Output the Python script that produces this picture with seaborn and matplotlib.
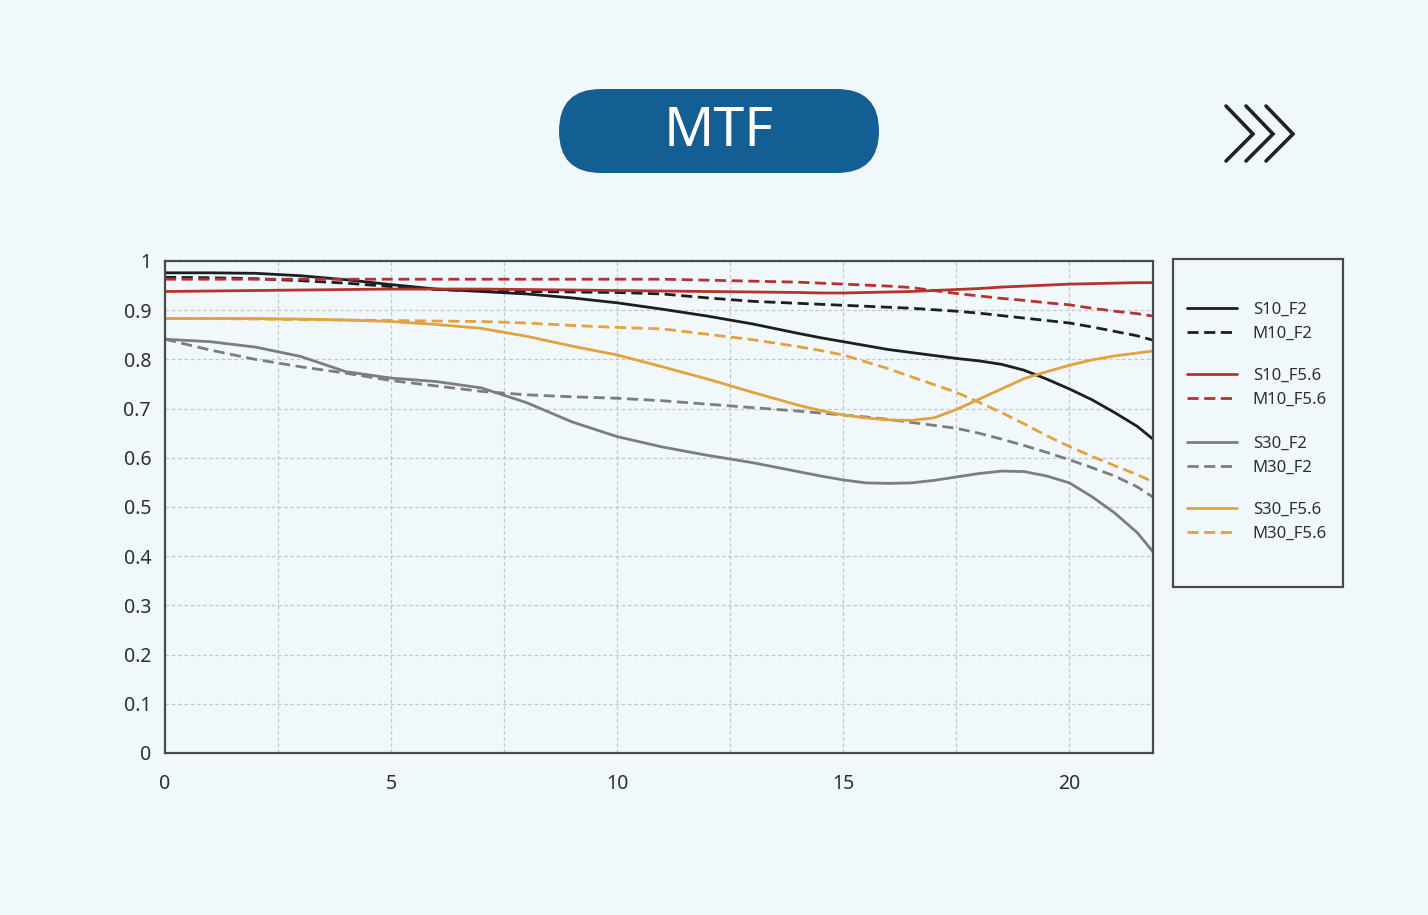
import numpy as np
import pandas as pd
import matplotlib.pyplot as plt
import seaborn as sns
from matplotlib.lines import Line2D
from matplotlib.patches import FancyBboxPatch, Rectangle
from matplotlib.transforms import IdentityTransform

# frecuencia espacial (lp/mm) y valores MTF
frecuencia = [0, 1, 2, 3, 4, 5, 6, 7, 8, 9, 10, 11, 12, 13, 14, 14.5, 15, 15.5, 16, 16.5,
              17, 17.5, 18, 18.5, 19, 19.5, 20, 20.5, 21, 21.5, 21.85]

s10_f2 = [0.976, 0.976, 0.975, 0.970, 0.962, 0.952, 0.943, 0.938, 0.933, 0.925, 0.915, 0.902,
          0.888, 0.872, 0.853, 0.844, 0.836, 0.828, 0.820, 0.814, 0.808, 0.802, 0.797, 0.790,
          0.778, 0.760, 0.740, 0.718, 0.692, 0.664, 0.638]
m10_f2 = [0.967, 0.966, 0.964, 0.960, 0.955, 0.948, 0.942, 0.939, 0.938, 0.937, 0.936, 0.933,
          0.925, 0.918, 0.914, 0.912, 0.910, 0.908, 0.906, 0.904, 0.901, 0.898, 0.894, 0.889,
          0.884, 0.879, 0.874, 0.866, 0.857, 0.848, 0.839]
s10_f56 = [0.938, 0.939, 0.940, 0.941, 0.942, 0.943, 0.943, 0.943, 0.942, 0.941, 0.940, 0.939,
           0.938, 0.937, 0.936, 0.935, 0.935, 0.936, 0.937, 0.938, 0.940, 0.942, 0.944, 0.947,
           0.949, 0.951, 0.953, 0.954, 0.955, 0.956, 0.956]
m10_f56 = [0.963, 0.963, 0.963, 0.963, 0.963, 0.963, 0.963, 0.963, 0.963, 0.963, 0.963, 0.963,
           0.961, 0.959, 0.957, 0.955, 0.953, 0.951, 0.949, 0.946, 0.940, 0.934, 0.929, 0.924,
           0.920, 0.915, 0.911, 0.904, 0.898, 0.893, 0.888]
s30_f2 = [0.841, 0.836, 0.825, 0.806, 0.775, 0.762, 0.755, 0.742, 0.712, 0.673, 0.643, 0.622,
          0.605, 0.590, 0.572, 0.563, 0.555, 0.549, 0.548, 0.549, 0.554, 0.561, 0.568, 0.573,
          0.572, 0.563, 0.549, 0.521, 0.488, 0.448, 0.409]
m30_f2 = [0.841, 0.819, 0.800, 0.785, 0.772, 0.757, 0.746, 0.735, 0.728, 0.724, 0.721, 0.716,
          0.709, 0.702, 0.695, 0.691, 0.687, 0.683, 0.678, 0.672, 0.666, 0.660, 0.650, 0.638,
          0.625, 0.611, 0.596, 0.580, 0.563, 0.541, 0.520]
s30_f56 = [0.883, 0.883, 0.883, 0.882, 0.880, 0.877, 0.871, 0.863, 0.847, 0.827, 0.809, 0.785,
           0.760, 0.733, 0.707, 0.696, 0.687, 0.681, 0.677, 0.676, 0.681, 0.698, 0.719, 0.740,
           0.761, 0.775, 0.788, 0.799, 0.807, 0.813, 0.817]
m30_f56 = [0.883, 0.883, 0.882, 0.881, 0.880, 0.879, 0.878, 0.877, 0.874, 0.869, 0.865, 0.862,
           0.851, 0.840, 0.826, 0.818, 0.809, 0.795, 0.781, 0.765, 0.749, 0.733, 0.713, 0.692,
           0.669, 0.645, 0.623, 0.603, 0.584, 0.566, 0.551]

curvas = ["S10_F2", "M10_F2", "S10_F5.6", "M10_F5.6", "S30_F2", "M30_F2", "S30_F5.6", "M30_F5.6"]
valores = [s10_f2, m10_f2, s10_f56, m10_f56, s30_f2, m30_f2, s30_f56, m30_f56]

NEGRO = "#1e1e1e"
ROJO = "#b5332e"
GRIS = "#7d7d7d"
NARANJA = "#e2a23e"
FONDO = "#f1f8fc"

colores = dict(zip(curvas, [NEGRO, NEGRO, ROJO, ROJO, GRIS, GRIS, NARANJA, NARANJA]))
estilos = {c: ("" if c.startswith("S") else (4, 2)) for c in curvas}

df = pd.concat([pd.DataFrame({"freq": frecuencia, "mtf": v, "curva": c})
                for c, v in zip(curvas, valores)], ignore_index=True)

sns.set_theme(style="white")
plt.rcParams["font.family"] = ["Noto Sans", "DejaVu Sans"]

fig = plt.figure(figsize=(14.28, 9.15), dpi=100, facecolor=FONDO)
ax = fig.add_axes([165 / 1428, 1 - 753 / 915, (1153 - 165) / 1428, (753 - 261) / 915])
ax.set_facecolor(FONDO)

sns.lineplot(data=df, x="freq", y="mtf", hue="curva", style="curva", palette=colores,
             dashes=estilos, linewidth=2, legend=False, ax=ax, sort=False)

ax.set_xlim(0, 21.85)
ax.set_ylim(0, 1)
ax.set_xticks([0, 5, 10, 15, 20])
ax.set_xticks([2.5, 7.5, 12.5, 17.5], minor=True)
yt = np.round(np.arange(0, 1.01, 0.1), 1)
ax.set_yticks(yt)
ax.set_yticklabels([f"{v:g}" for v in yt])
ax.set_xlabel("")
ax.set_ylabel("")
ax.tick_params(axis="both", which="both", length=0, labelsize=14, colors="#2e2e2e")
ax.tick_params(axis="x", pad=15)
ax.tick_params(axis="y", pad=10)
ax.grid(True, which="both", color="#c4c7ca", linestyle=(0, (3, 2)), linewidth=0.9)
for s in ax.spines.values():
    s.set_color("#4a4a4a")
    s.set_linewidth(1.6)

# cuadro de la leyenda
fig.add_artist(Rectangle((1173 / 1428, 1 - 587 / 915), (1343 - 1173) / 1428, (587 - 259) / 915,
                         transform=fig.transFigure, facecolor=FONDO, edgecolor="#4a4a4a",
                         linewidth=1.6))
centros = [322, 388, 456, 522]
for i, yc in enumerate(centros):
    par = curvas[2 * i:2 * i + 2]
    handles = [Line2D([], [], color=colores[c], linewidth=2,
                      linestyle="-" if c.startswith("S") else (0, (4, 2))) for c in par]
    fig.legend(handles, par, loc="center left", bbox_to_anchor=(1187 / 1428, 1 - yc / 915),
               bbox_transform=fig.transFigure, frameon=False, borderpad=0, borderaxespad=0,
               handlelength=3, handletextpad=0.95, labelspacing=0.47, fontsize=12,
               labelcolor="#2e2e2e")

# cabecera
fig.add_artist(FancyBboxPatch((559, 915 - 173), 320, 84,
                              boxstyle="round,pad=0,rounding_size=42",
                              transform=IdentityTransform(), facecolor="#135e93",
                              edgecolor="none"))
fig.text(719 / 1428, 1 - 131 / 915, "MTF", color="white", fontsize=40,
         ha="center", va="center")

# flechas decorativas
for k in range(3):
    x0 = (1226 + 20 * k) / 1428
    x1 = (1253 + 20 * k) / 1428
    fig.add_artist(Line2D([x0, x1, x0], [1 - 106 / 915, 1 - 134 / 915, 1 - 161 / 915],
                          transform=fig.transFigure, color="#222222", linewidth=2.6,
                          solid_capstyle="round", solid_joinstyle="miter"))

fig.savefig("out.png", dpi=100, facecolor=FONDO)
